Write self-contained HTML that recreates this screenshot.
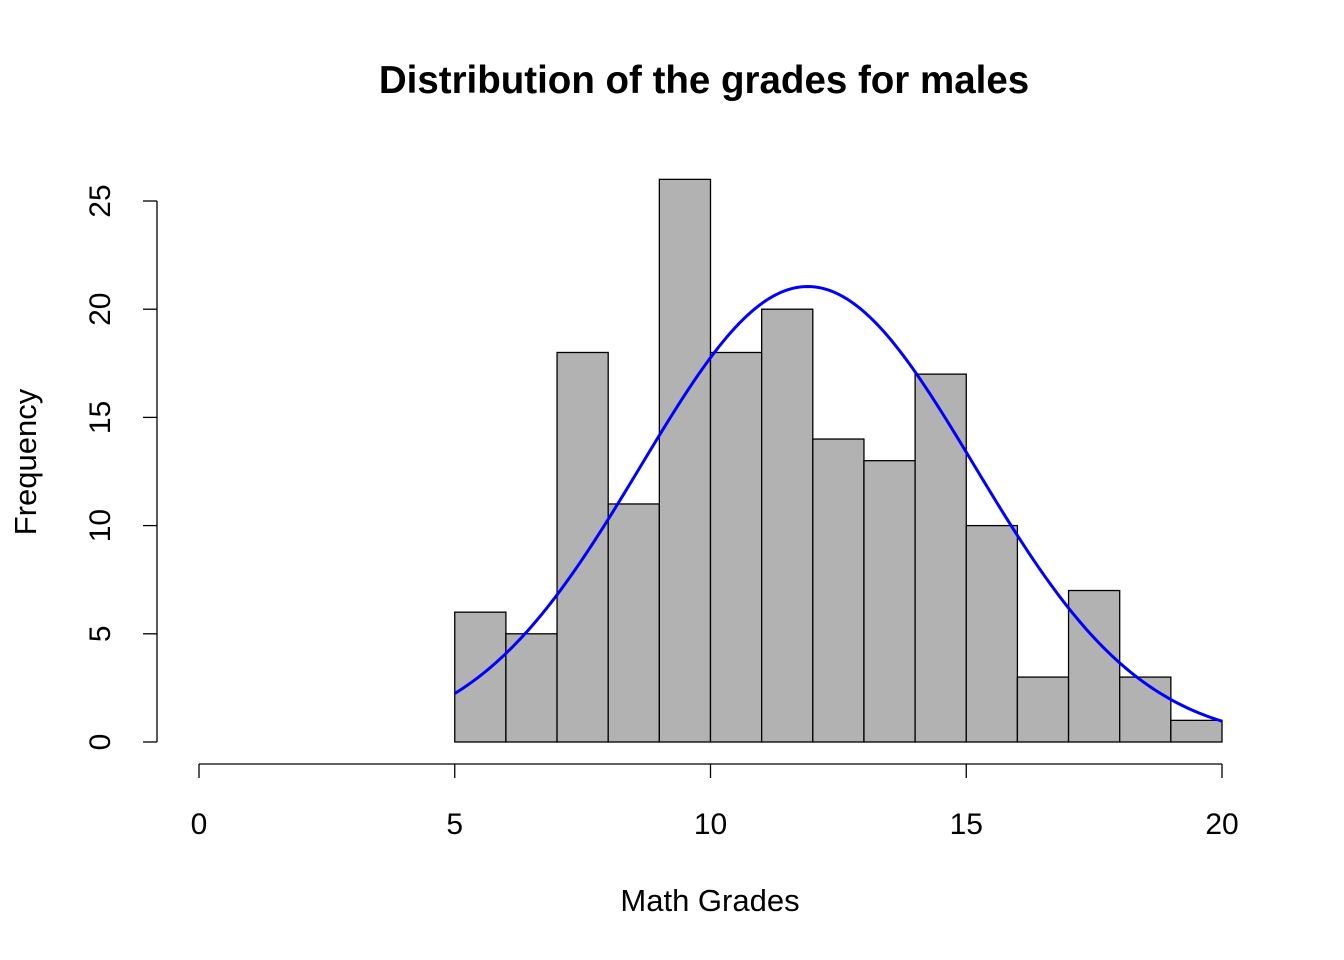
<!DOCTYPE html>
<html><head><meta charset="utf-8"><style>
html,body{margin:0;padding:0;background:#fff;}
svg{display:block;font-family:"Liberation Sans",Arial,sans-serif;}
</style></head><body>
<svg id="chart" width="1344" height="960" viewBox="0 0 1344 960" xmlns="http://www.w3.org/2000/svg">
<text x="704" y="93" text-anchor="middle" style="font-size:38.5px;font-weight:bold">Distribution of the grades for males</text>
<text x="710" y="911" text-anchor="middle" style="font-size:31px">Math Grades</text>
<text transform="translate(36,462) rotate(-90)" text-anchor="middle" style="font-size:31px">Frequency</text>
<g id="bars"></g>
<g id="axes"></g>
<path id="curve" fill="none" stroke="#0000ff" stroke-width="3"></path>
</svg>
<script>
const binStarts = [5,6,7,8,9,10,11,12,13,14,15,16,17,18,19];
const counts = [6,5,18,11,26,18,20,14,13,17,10,3,7,3,1];
const xTicks = [0,5,10,15,20];
const yTicks = [0,5,10,15,20,25];
const curveMean = 11.9;
const curveSd = 3.26;
const curveN = 172;

const NS = "http://www.w3.org/2000/svg";
function X(v){ return 199 + (v - 0) * (1222 - 199) / 20; }
function Y(v){ return 742 - v * (742 - 201) / 25; }
function mk(tag, attrs, parent){
  const e = document.createElementNS(NS, tag);
  for (const k in attrs) e.setAttribute(k, attrs[k]);
  parent.appendChild(e);
  return e;
}
const bars = document.getElementById('bars');
binStarts.forEach((b, i) => {
  const r = mk('rect', {x: X(b), y: Y(counts[i]), width: X(b + 1) - X(b), height: Y(0) - Y(counts[i]), fill: '#b2b2b2', stroke: '#000', 'stroke-width': 1.3}, bars);
  
  
});
const axes = document.getElementById('axes');
const xl = mk('line', {x1: X(xTicks[0]), x2: X(xTicks[xTicks.length - 1]), y1: 764, y2: 764, stroke: '#000', 'stroke-width': 1.3}, axes);


xTicks.forEach(t => {
  mk('line', {x1: X(t), x2: X(t), y1: 764, y2: 778, stroke: '#000', 'stroke-width': 1.3}, axes);
  const tx = mk('text', {x: X(t), y: 834, 'text-anchor': 'middle', style: 'font-size:30px'}, axes);
  tx.textContent = t;
  
  
});
const yl = mk('line', {x1: 157, x2: 157, y1: Y(yTicks[0]), y2: Y(yTicks[yTicks.length - 1]), stroke: '#000', 'stroke-width': 1.3}, axes);


yTicks.forEach(t => {
  mk('line', {x1: 143, x2: 157, y1: Y(t), y2: Y(t), stroke: '#000', 'stroke-width': 1.3}, axes);
  const tx = mk('text', {transform: 'translate(110,' + Y(t) + ') rotate(-90)', 'text-anchor': 'middle', style: 'font-size:30px'}, axes);
  tx.textContent = t;
  
  
});
let d = '';
const x0 = binStarts[0], x1 = binStarts[binStarts.length - 1] + 1;
for (let i = 0; i <= 200; i++) {
  const v = x0 + (x1 - x0) * i / 200;
  const dens = curveN / (curveSd * Math.sqrt(2 * Math.PI)) * Math.exp(-0.5 * Math.pow((v - curveMean) / curveSd, 2));
  d += (i ? 'L' : 'M') + X(v).toFixed(2) + ',' + Y(dens).toFixed(2);
}
document.getElementById('curve').setAttribute('d', d);
</script>
</body></html>
